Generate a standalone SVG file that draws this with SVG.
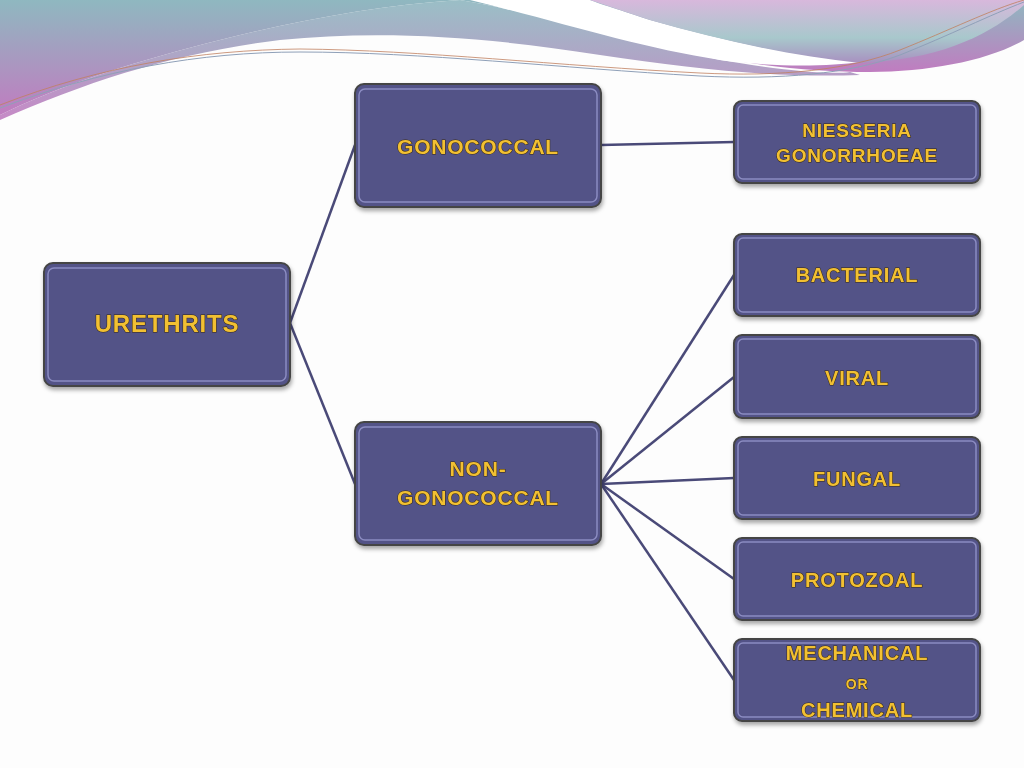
<svg xmlns="http://www.w3.org/2000/svg" width="1024" height="768" viewBox="0 0 1024 768">
<defs>
<linearGradient id="g1" x1="0" y1="0" x2="0" y2="1"><stop offset="0" stop-color="#8fb8c0"/><stop offset="1" stop-color="#c07cc0"/></linearGradient>
<linearGradient id="g2" x1="0" y1="0" x2="0" y2="1"><stop offset="0" stop-color="#d8b8dc"/><stop offset="0.6" stop-color="#a8c8cc"/><stop offset="1" stop-color="#a890c0"/></linearGradient>
<filter id="sh" x="-10%" y="-10%" width="125%" height="130%"><feDropShadow dx="1" dy="3" stdDeviation="2" flood-color="#000" flood-opacity="0.35"/></filter>
</defs>
<style>
.n rect.b{fill:#525387;stroke:#444;stroke-width:2}
.n rect.h{fill:none;stroke:#9a9ad0;stroke-width:1.5;opacity:0.8}
.n text{fill:#f2c031;text-anchor:middle;stroke:#3a2a10;stroke-width:1;paint-order:stroke;letter-spacing:0.8px}
.c line{stroke:#4a4a78;stroke-width:2.5}
</style>
<rect width="1024" height="768" fill="#fdfdfd"/>
<path d="M0,0 H460 C380,5 300,20 220,40 C140,60 60,85 0,115 Z" fill="url(#g1)"/>
<path d="M0,115 C60,85 140,60 220,40 C300,20 380,5 460,0 H460 C520,10 620,35 720,60 C780,70 830,75 850,72 L860,75 C780,78 700,70 600,55 C480,36 380,30 280,40 C180,52 90,80 0,120 Z" fill="url(#g1)" opacity="0.9"/>
<path d="M460,0 H1024 V40 C990,60 930,72 870,72 C800,72 720,62 640,40 C580,25 520,10 460,0 Z" fill="url(#g1)"/>
<path d="M470,0 C560,22 640,48 720,60 C780,68 830,66 860,62 C790,55 720,40 650,20 C620,10 600,4 590,0 Z" fill="#fff"/>
<path d="M590,0 H1024 V5 C990,35 940,60 860,63 C790,56 720,40 650,20 Z" fill="url(#g2)"/>
<path d="M0,108 C100,70 200,52 300,52 C420,52 560,68 700,76 C780,80 850,74 900,55 C950,35 990,15 1024,2" fill="none" stroke="#8fa0b8" stroke-width="1"/>
<path d="M0,105 C100,66 200,50 300,49 C420,50 560,66 700,73 C780,77 850,70 900,50 C950,30 990,10 1024,0" fill="none" stroke="#c08060" stroke-width="0.8"/>
<g class="c">
<line x1="290" y1="323" x2="355" y2="145"/>
<line x1="290" y1="323" x2="355" y2="484"/>
<line x1="601" y1="145" x2="734" y2="142"/>
<line x1="601" y1="484" x2="734" y2="275"/>
<line x1="601" y1="484" x2="734" y2="377"/>
<line x1="601" y1="484" x2="734" y2="478"/>
<line x1="601" y1="484" x2="734" y2="579"/>
<line x1="601" y1="484" x2="734" y2="680"/>
</g>
<g font-family="'Liberation Sans', Arial, sans-serif" font-weight="700">
<g id="urethrits" class="n" filter="url(#sh)"><rect class="b" x="44" y="263" width="246" height="123" rx="9"/><rect class="h" x="48" y="268" width="238" height="113" rx="6"/><text x="167" y="332" font-size="24">URETHRITS</text></g>
<g id="gonococcal" class="n" filter="url(#sh)"><rect class="b" x="355" y="84" width="246" height="123" rx="9"/><rect class="h" x="359" y="89" width="238" height="113" rx="6"/><text x="478" y="154" font-size="21">GONOCOCCAL</text></g>
<g id="nongonococcal" class="n" filter="url(#sh)"><rect class="b" x="355" y="422" width="246" height="123" rx="9"/><rect class="h" x="359" y="427" width="238" height="113" rx="6"/><text x="478" y="476" font-size="21">NON-</text><text x="478" y="505" font-size="21">GONOCOCCAL</text></g>
<g id="niesseria" class="n" filter="url(#sh)"><rect class="b" x="734" y="101" width="246" height="82" rx="8"/><rect class="h" x="738" y="105" width="238" height="74" rx="5"/><text x="857" y="137" font-size="19">NIESSERIA</text><text x="857" y="162" font-size="19">GONORRHOEAE</text></g>
<g id="bacterial" class="n" filter="url(#sh)"><rect class="b" x="734" y="234" width="246" height="82" rx="8"/><rect class="h" x="738" y="238" width="238" height="74" rx="5"/><text x="857" y="282" font-size="20">BACTERIAL</text></g>
<g id="viral" class="n" filter="url(#sh)"><rect class="b" x="734" y="335" width="246" height="83" rx="8"/><rect class="h" x="738" y="339" width="238" height="75" rx="5"/><text x="857" y="385" font-size="20">VIRAL</text></g>
<g id="fungal" class="n" filter="url(#sh)"><rect class="b" x="734" y="437" width="246" height="82" rx="8"/><rect class="h" x="738" y="441" width="238" height="74" rx="5"/><text x="857" y="486" font-size="20">FUNGAL</text></g>
<g id="protozoal" class="n" filter="url(#sh)"><rect class="b" x="734" y="538" width="246" height="82" rx="8"/><rect class="h" x="738" y="542" width="238" height="74" rx="5"/><text x="857" y="587" font-size="20">PROTOZOAL</text></g>
<g id="mechanical" class="n" filter="url(#sh)"><rect class="b" x="734" y="639" width="246" height="82" rx="8"/><rect class="h" x="738" y="643" width="238" height="74" rx="5"/><text x="857" y="660" font-size="20">MECHANICAL</text><text x="857" y="689" font-size="14">OR</text><text x="857" y="717" font-size="20">CHEMICAL</text></g>
</g>
</svg>
